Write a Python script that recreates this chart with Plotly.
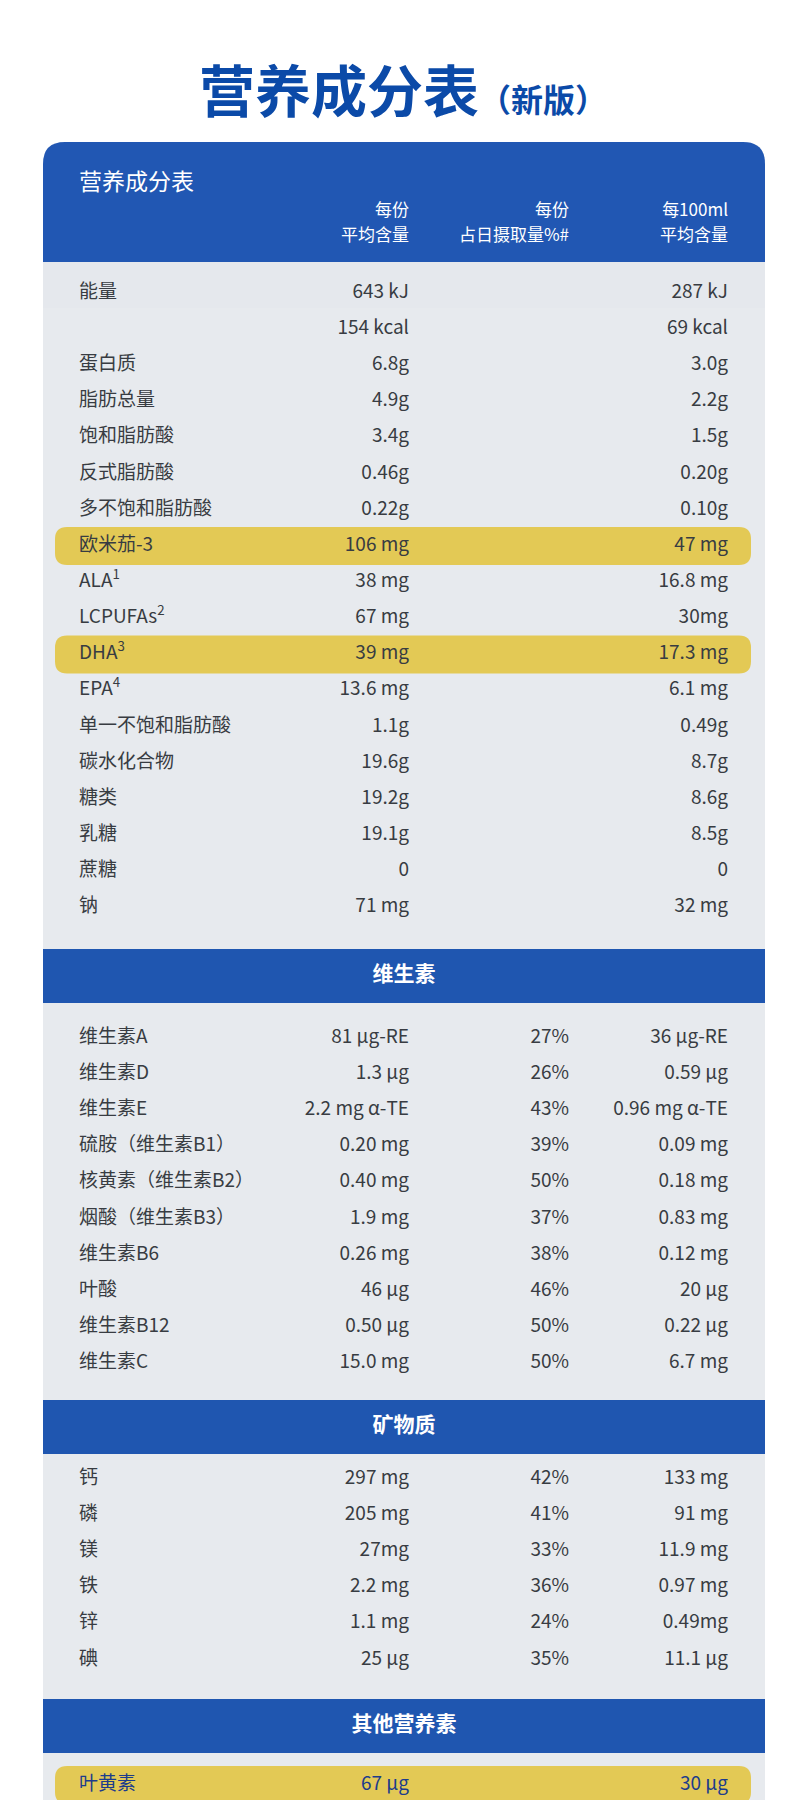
import plotly.graph_objects as go

# ---- data ----
title_main = "营养成分表"
title_sub = "（新版）"
header_title = "营养成分表"
col_heads_1 = ["每份", "每份", "每100ml"]
col_heads_2 = ["平均含量", "占日摄取量%#", "平均含量"]

basic_labels = ["能量", "", "蛋白质", "脂肪总量", "饱和脂肪酸", "反式脂肪酸", "多不饱和脂肪酸", "欧米茄-3",
                "ALA<sup>1</sup>", "LCPUFAs<sup>2</sup>", "DHA<sup>3</sup>", "EPA<sup>4</sup>", "单一不饱和脂肪酸",
                "碳水化合物", "糖类", "乳糖", "蔗糖", "钠"]
basic_serv = ["643 kJ", "154 kcal", "6.8g", "4.9g", "3.4g", "0.46g", "0.22g", "106 mg", "38 mg", "67 mg",
              "39 mg", "13.6 mg", "1.1g", "19.6g", "19.2g", "19.1g", "0", "71 mg"]
basic_100 = ["287 kJ", "69 kcal", "3.0g", "2.2g", "1.5g", "0.20g", "0.10g", "47 mg", "16.8 mg", "30mg",
             "17.3 mg", "6.1 mg", "0.49g", "8.7g", "8.6g", "8.5g", "0", "32 mg"]
basic_highlight = ["欧米茄-3", "DHA<sup>3</sup>"]

vit_title = "维生素"
vit_labels = ["维生素A", "维生素D", "维生素E", "硫胺（维生素B1）", "核黄素（维生素B2）", "烟酸（维生素B3）",
              "维生素B6", "叶酸", "维生素B12", "维生素C"]
vit_serv = ["81 µg-RE", "1.3 µg", "2.2 mg α-TE", "0.20 mg", "0.40 mg", "1.9 mg", "0.26 mg", "46 µg", "0.50 µg", "15.0 mg"]
vit_pct = ["27%", "26%", "43%", "39%", "50%", "37%", "38%", "46%", "50%", "50%"]
vit_100 = ["36 µg-RE", "0.59 µg", "0.96 mg α-TE", "0.09 mg", "0.18 mg", "0.83 mg", "0.12 mg", "20 µg", "0.22 µg", "6.7 mg"]

min_title = "矿物质"
min_labels = ["钙", "磷", "镁", "铁", "锌", "碘"]
min_serv = ["297 mg", "205 mg", "27mg", "2.2 mg", "1.1 mg", "25 µg"]
min_pct = ["42%", "41%", "33%", "36%", "24%", "35%"]
min_100 = ["133 mg", "91 mg", "11.9 mg", "0.97 mg", "0.49mg", "11.1 µg"]

oth_title = "其他营养素"
oth_labels = ["叶黄素"]
oth_serv = ["67 µg"]
oth_100 = ["30 µg"]

# ---- layout constants ----
W, H = 790, 1800
FONT = "Noto Sans CJK SC"
BLUE = "#1f56b0"
DARK = "#383c42"
HL_TEXT = "#1c3c8c"
X_LAB, X_C1, X_C2, X_C3 = 71, 401, 561, 720
PX0, PX1 = 35, 757
STEP = 36.15

fig = go.Figure()
shapes = []

def rpath(x0, y0, x1, y1, r, top_only=False):
    if top_only:
        return (f"M{x0},{y1} L{x0},{y0+r} Q{x0},{y0} {x0+r},{y0} L{x1-r},{y0} "
                f"Q{x1},{y0} {x1},{y0+r} L{x1},{y1} Z")
    return (f"M{x0+r},{y0} L{x1-r},{y0} Q{x1},{y0} {x1},{y0+r} L{x1},{y1-r} Q{x1},{y1} {x1-r},{y1} "
            f"L{x0+r},{y1} Q{x0},{y1} {x0},{y1-r} L{x0},{y0+r} Q{x0},{y0} {x0+r},{y0} Z")

shapes.append(dict(type="path", path=rpath(PX0, 134, PX1, 1830, 22, top_only=True),
                   fillcolor="#e7eaee", line=dict(width=0), layer="below"))
shapes.append(dict(type="path", path=rpath(PX0, 134, PX1, 254, 22, top_only=True),
                   fillcolor="#2157b3", line=dict(width=0), layer="below"))
shapes.append(dict(type="rect", x0=PX0, x1=PX1, y0=254, y1=300, fillcolor="#e3e6eb",
                   line=dict(width=0), layer="below", opacity=0.5))

def text_trace(xs, ys, texts, pos, color, size, bold=False):
    fig.add_trace(go.Scatter(x=xs, y=ys, text=[f"<b>{t}</b>" if bold else t for t in texts],
                             mode="text", textposition=pos,
                             textfont=dict(family=FONT, size=size, color=color),
                             hoverinfo="skip", showlegend=False))

def highlight(y):
    shapes.append(dict(type="path", path=rpath(47, y - 19, 743, y + 19, 12),
                       fillcolor="#e3c955", line=dict(width=0), layer="below"))

def section(labels, serv, pct, p100, y0, hl=(), hl_color=DARK):
    ys = [y0 + i * STEP for i in range(len(labels))]
    cols = [hl_color if l in hl else DARK for l in labels]
    for l, y in zip(labels, ys):
        if l in hl:
            highlight(y)
    for i in range(len(labels)):
        text_trace([X_LAB], [ys[i]], [labels[i]], "middle right", cols[i], 19)
        text_trace([X_C1], [ys[i]], [serv[i]], "middle left", cols[i], 19)
        if pct:
            text_trace([X_C2], [ys[i]], [pct[i]], "middle left", cols[i], 19)
        text_trace([X_C3], [ys[i]], [p100[i]], "middle left", cols[i], 19)

def band(title, y0, y1):
    shapes.append(dict(type="rect", x0=PX0, x1=PX1, y0=y0, y1=y1, fillcolor=BLUE,
                       line=dict(width=0), layer="below"))
    text_trace([(PX0 + PX1) / 2], [(y0 + y1) / 2], [title], "middle center", "white", 21, bold=True)

fig.add_trace(go.Scatter(x=[395], y=[90], mode="text",
                         text=[f"<b><span style='font-size:56px'>{title_main}</span>"
                               f"<span style='font-size:32px'>{title_sub}</span></b>"],
                         textposition="middle center",
                         textfont=dict(family=FONT, size=56, color="#0b4aa8"),
                         hoverinfo="skip", showlegend=False))
text_trace([X_LAB], [176], [header_title], "middle right", "white", 23)
for x, a, b in zip([X_C1, X_C2, X_C3], col_heads_1, col_heads_2):
    text_trace([x], [204], [a], "middle left", "white", 17)
    text_trace([x], [229], [b], "middle left", "white", 17)

section(basic_labels, basic_serv, None, basic_100, 285, hl=basic_highlight)
band(vit_title, 941, 995)
section(vit_labels, vit_serv, vit_pct, vit_100, 1030)
band(min_title, 1392, 1446)
section(min_labels, min_serv, min_pct, min_100, 1471)
band(oth_title, 1691, 1745)
section(oth_labels, oth_serv, None, oth_100, 1777, hl=oth_labels, hl_color=HL_TEXT)

fig.update_layout(width=W, height=H, margin=dict(l=0, r=0, t=0, b=0),
                  paper_bgcolor="white", plot_bgcolor="white", shapes=shapes,
                  xaxis=dict(range=[0, W], visible=False, fixedrange=True),
                  yaxis=dict(range=[H, 0], visible=False, fixedrange=True))
fig.write_html("out.html")
